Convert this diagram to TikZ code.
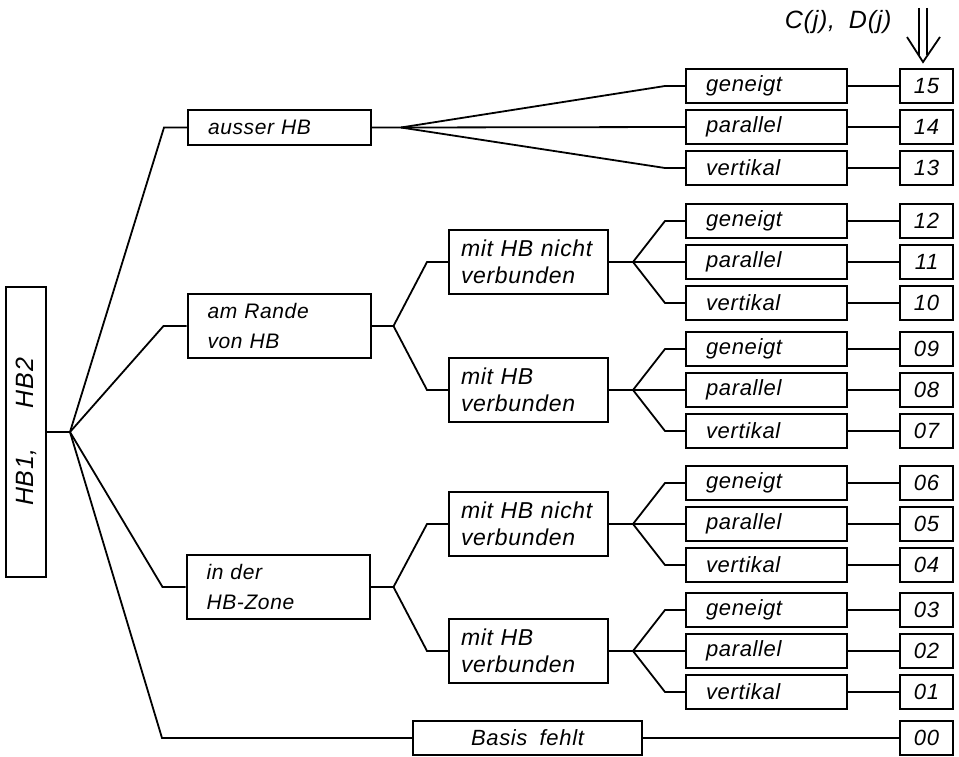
\documentclass[tikz,border=0pt]{standalone}
\usepackage{fontspec}
\setmainfont{Liberation Sans}[WordSpace=1.8, LetterSpace=3]
\usepackage{graphicx}
\usetikzlibrary{positioning}

\tikzset{
  box/.style={draw, rectangle, line width=2pt, inner ysep=0pt},
  rootbox/.style={box, minimum width=40pt, minimum height=290pt, inner xsep=0pt, font=\itshape\fontsize{25}{28}\selectfont},
  topbox/.style={box, text width=143pt, inner xsep=20pt, align=left, font=\itshape\fontsize{21}{30}\selectfont},
  midbox/.style={box, minimum height=64pt, text width=135pt, inner xsep=12pt, align=left, font=\itshape\fontsize{23}{27}\selectfont},
  leafbox/.style={box, minimum height=34pt, text width=121pt, inner xsep=20pt, align=left, font=\itshape\fontsize{22}{24}\selectfont},
  numbox/.style={box, minimum width=53pt, minimum height=34pt, inner xsep=0pt, font=\itshape\fontsize{22}{24}\selectfont},
  link/.style={line width=1.8pt},
}

\begin{document}
\begin{tikzpicture}[x=1pt, y=-1pt]
\useasboundingbox (0,0) rectangle (959,757);
% root and first level
\node[rootbox] (root) at (26,432) {\rotatebox{90}{HB1,\hspace{1.6em}HB2}};
\node[topbox, minimum height=35pt] (aus) at (279.5,127.5) {ausser HB};
\node[topbox, minimum height=64pt] (rande) at (279,326) {am Rande\\von HB};
\node[topbox, minimum height=64pt] (zone) at (278,587) {in der\\HB-Zone};
\node[box, minimum width=229pt, minimum height=34pt, font=\itshape\fontsize{22}{24}\selectfont] (basis) at (527.5,738) {Basis fehlt};
% second level
\node[midbox] (mA) at (528.5,262) {mit HB nicht\\verbunden};
\node[midbox] (mB) at (528.5,390) {mit HB\\verbunden};
\node[midbox] (mC) at (528.5,524) {mit HB nicht\\verbunden};
\node[midbox] (mD) at (528.5,651) {mit HB\\verbunden};
% leaves and numbers
\foreach \src/\gy/\js/\a/\b/\c in {aus/127/29/15/14/13, mA/262/24/12/11/10, mB/390/24/09/08/07, mC/524/24/06/05/04, mD/651/24/03/02/01} {
\node[leafbox] (g\a) at (766.5,\gy-41) {geneigt};
\node[leafbox] (g\b) at (766.5,\gy) {parallel};
\node[leafbox] (g\c) at (766.5,\gy+41) {vertikal};
\node[numbox] (n\a) at (926.5,\gy-41) {\a};
\node[numbox] (n\b) at (926.5,\gy) {\b};
\node[numbox] (n\c) at (926.5,\gy+41) {\c};
\draw[link] (\src.east) -- ++(\js,0) coordinate (fan\src) -- ([xshift=-20pt]g\a.west) -- (g\a.west);
\draw[link] (fan\src) -- (g\b.west);
\draw[link] (fan\src) -- ([xshift=-20pt]g\c.west) -- (g\c.west);
\foreach \k in {\a,\b,\c}
  \draw[link] (g\k.east) -- (n\k.west);
}
\node[numbox] (n00) at (926.5,738) {00};
\draw[link] (basis.east) -- (n00.west);
% root branches
\coordinate (rootj) at (70,432);
\draw[link] (root.east) -- (rootj);
\draw[link] (rootj) -- ([xshift=-23pt]aus.west) -- (aus.west);
\draw[link] (rootj) -- ([xshift=-23pt]rande.west) -- (rande.west);
\draw[link] (rootj) -- ([xshift=-23pt]zone.west) -- (zone.west);
\draw[link] (rootj) -- ([xshift=-250pt]basis.west) -- (basis.west);
% first to second level
\draw[link] (rande.east) -- ++(22,0) coordinate (randej) -- ([xshift=-21pt]mA.west) -- (mA.west);
\draw[link] (randej) -- ([xshift=-21pt]mB.west) -- (mB.west);
\draw[link] (zone.east) -- ++(23,0) coordinate (zonej) -- ([xshift=-21pt]mC.west) -- (mC.west);
\draw[link] (zonej) -- ([xshift=-21pt]mD.west) -- (mD.west);
% label and arrow on top
\node[anchor=east, font=\itshape\fontsize{25}{28}\selectfont] (cdlabel) at (895,22) {C(j), D(j)};
\coordinate (arrtip) at (923,62);
\draw[link] ([xshift=-4pt,yshift=54pt]arrtip) -- ([xshift=-4pt,yshift=7pt]arrtip);
\draw[link] ([xshift=4pt,yshift=54pt]arrtip) -- ([xshift=4pt,yshift=7pt]arrtip);
\draw[link] ([xshift=-16pt,yshift=25pt]arrtip) -- (arrtip) -- ([xshift=17pt,yshift=25pt]arrtip);
\end{tikzpicture}
\end{document}
